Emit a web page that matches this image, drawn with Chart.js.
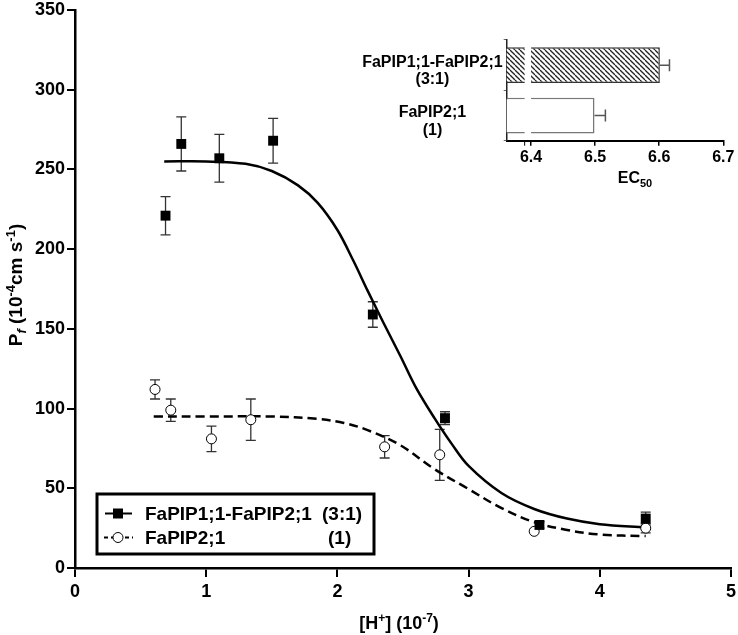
<!DOCTYPE html>
<html>
<head>
<meta charset="utf-8">
<script src="https://cdn.jsdelivr.net/npm/chart.js@4.4.1/dist/chart.umd.min.js"></script>
<style>
  body { margin: 0; background: #fff; }
  #wrap { position: relative; width: 738px; height: 635px; }
  #mainChart { position: absolute; left: 0; top: 0; }
  #insetChart { position: absolute; left: 340px; top: 30px; }
</style>
</head>
<body>
<div id="wrap">
  <canvas id="mainChart" width="738" height="635"></canvas>
  <canvas id="insetChart" width="398" height="170"></canvas>
</div>
<script>
// measured points, [H+] (10^-7) vs Pf
const seriesNames = ["FaPIP1;1-FaPIP2;1", "FaPIP2;1"];
const seriesRatios = ["(3:1)", "(1)"];

const mixX   = [0.69, 0.81, 1.10, 1.51, 2.27, 2.82, 3.54, 4.35];
const mixY   = [221, 266, 257, 268, 159, 94, 27, 31];
const mixErr = [12, 17, 15, 14, 8, 4, 2, 4];

const pip2X   = [0.61, 0.73, 1.04, 1.34, 2.36, 2.78, 3.50, 4.35];
const pip2Y   = [112, 99, 81, 93, 76, 71, 23, 25];
const pip2Err = [6, 7, 8, 13, 7, 16, 0, 3];

// fitted curves
const mixFitX = [0.68, 1.0, 1.3, 1.5, 1.7, 1.85, 2.0, 2.12, 2.23, 2.35, 2.48, 2.6, 2.74, 2.87, 3.0, 3.25, 3.5, 3.75, 4.0, 4.35];
const mixFitY = [255, 255, 253.5, 249, 240, 229, 212, 193, 174, 154, 133, 113, 94, 78, 64, 47, 37, 31, 27.5, 25.5];
const pip2FitX = [0.6, 1.0, 1.5, 1.85, 2.05, 2.23, 2.48, 2.74, 2.99, 3.24, 3.49, 3.74, 4.0, 4.35];
const pip2FitY = [95, 95, 95, 93.5, 91, 86.5, 77, 62, 50, 38, 29, 24, 21, 20];

const xTicks = [0, 1, 2, 3, 4, 5];
const yTicks = [0, 50, 100, 150, 200, 250, 300, 350];

// inset: EC50
const ec50Labels = [["FaPIP1;1-FaPIP2;1", "(3:1)"], ["FaPIP2;1", "(1)"]];
const ec50Values = [6.601, 6.499];
const ec50Err = [0.015, 0.017];
const ec50Ticks = [6.4, 6.5, 6.6, 6.7];
const ec50Break = [6.39, 6.40];

const FONT = "'Liberation Sans', Arial, sans-serif";

function toPoints(xs, ys) {
  return xs.map((x, i) => ({ x: x, y: ys[i] }));
}

// draws text with super/subscript parts, centred on x
function drawRich(ctx, parts, x, y) {
  let total = 0;
  parts.forEach(p => {
    ctx.font = (p.italic ? "italic " : "") + "bold " + p.size + "px " + FONT;
    p.w = ctx.measureText(p.t).width;
    total += p.w;
  });
  let cx = x - total / 2;
  ctx.textAlign = "left";
  ctx.textBaseline = "alphabetic";
  parts.forEach(p => {
    ctx.font = (p.italic ? "italic " : "") + "bold " + p.size + "px " + FONT;
    ctx.fillText(p.t, cx, y + (p.dy || 0));
    cx += p.w;
  });
}

const errorBars = {
  id: "errorBars",
  beforeDatasetsDraw(chart) {
    const ctx = chart.ctx;
    const xs = chart.scales.x, ys = chart.scales.y;
    const sets = [[mixX, mixY, mixErr], [pip2X, pip2Y, pip2Err]];
    ctx.save();
    ctx.strokeStyle = "#333";
    ctx.lineWidth = 1.3;
    sets.forEach(s => {
      s[0].forEach((xv, i) => {
        if (!s[2][i]) return;
        const px = xs.getPixelForValue(xv);
        const top = ys.getPixelForValue(s[1][i] + s[2][i]);
        const bot = ys.getPixelForValue(s[1][i] - s[2][i]);
        ctx.beginPath();
        ctx.moveTo(px, top); ctx.lineTo(px, bot);
        ctx.moveTo(px - 5, top); ctx.lineTo(px + 5, top);
        ctx.moveTo(px - 5, bot); ctx.lineTo(px + 5, bot);
        ctx.stroke();
      });
    });
    ctx.restore();
  }
};

const extras = {
  id: "extras",
  afterDraw(chart) {
    const ctx = chart.ctx;
    ctx.save();
    ctx.fillStyle = "#000";
    // x title
    drawRich(ctx, [
      { t: "[H", size: 18 }, { t: "+", size: 12, dy: -7 },
      { t: "] (10", size: 18 }, { t: "-7", size: 12, dy: -7 }, { t: ")", size: 18 }
    ], 399, 629);
    // y title
    ctx.translate(22, 285);
    ctx.rotate(-Math.PI / 2);
    drawRich(ctx, [
      { t: "P", size: 19 }, { t: "f", size: 13, dy: 4, italic: true },
      { t: " (10", size: 19 }, { t: "-4", size: 13, dy: -7 },
      { t: "cm s", size: 19 }, { t: "-1", size: 13, dy: -7 }, { t: ")", size: 19 }
    ], 0, 0);
    ctx.restore();

    // legend box
    ctx.save();
    ctx.strokeStyle = "#000";
    ctx.lineWidth = 3;
    ctx.strokeRect(97, 494, 277, 60);
    const rows = [513.5, 537.5];
    ctx.lineWidth = 2;
    // row 1: solid + square
    ctx.beginPath(); ctx.moveTo(105, rows[0]); ctx.lineTo(132, rows[0]); ctx.stroke();
    ctx.fillStyle = "#000";
    ctx.fillRect(113, rows[0] - 5, 10, 10);
    // row 2: dashed + circle
    ctx.setLineDash([4, 3]);
    ctx.beginPath(); ctx.moveTo(104, rows[1]); ctx.lineTo(133, rows[1]); ctx.stroke();
    ctx.setLineDash([]);
    ctx.fillStyle = "#fff";
    ctx.lineWidth = 1;
    ctx.beginPath(); ctx.arc(118, rows[1], 5, 0, Math.PI * 2); ctx.fill(); ctx.stroke();
    ctx.fillStyle = "#000";
    ctx.font = "bold 19px " + FONT;
    ctx.textBaseline = "middle";
    ctx.textAlign = "left";
    ctx.fillText(seriesNames[0], 145, rows[0] + 1);
    ctx.fillText(seriesNames[1], 145, rows[1] + 1);
    ctx.fillText(seriesRatios[0], 322, rows[0] + 1);
    ctx.fillText(seriesRatios[1], 328, rows[1] + 1);
    ctx.restore();
  }
};

new Chart(document.getElementById("mainChart"), {
  type: "scatter",
  data: {
    datasets: [
      {
        label: seriesNames[0],
        data: toPoints(mixX, mixY),
        pointStyle: "rect",
        pointRadius: 7,
        backgroundColor: "#000",
        borderColor: "#000",
        borderWidth: 0
      },
      {
        label: seriesNames[1],
        data: toPoints(pip2X, pip2Y),
        pointStyle: "circle",
        pointRadius: 5,
        backgroundColor: "#fff",
        borderColor: "#000",
        borderWidth: 1
      },
      {
        label: "fit 1",
        data: toPoints(mixFitX, mixFitY),
        showLine: true,
        pointRadius: 0,
        borderColor: "#000",
        borderWidth: 2.5,
        tension: 0.35
      },
      {
        label: "fit 2",
        data: toPoints(pip2FitX, pip2FitY),
        showLine: true,
        pointRadius: 0,
        borderColor: "#000",
        borderWidth: 2.5,
        borderDash: [9, 5],
        tension: 0.35
      }
    ]
  },
  options: {
    responsive: false,
    animation: false,
    layout: { padding: { top: 10, right: 3, left: 0, bottom: 0 } },
    plugins: { legend: { display: false }, tooltip: { enabled: false } },
    scales: {
      x: {
        type: "linear",
        min: 0, max: 5,
        afterBuildTicks: s => { s.ticks = xTicks.map(v => ({ value: v })); },
        afterFit: s => { s.height = 67; s.paddingLeft = 0; s.paddingRight = 0; },
        ticks: { color: "#000", font: { family: FONT, size: 18, weight: "bold" }, padding: 4 },
        grid: { drawOnChartArea: false, tickLength: 9, color: "#000", lineWidth: 2 },
        border: { color: "#000", width: 2.5 }
      },
      y: {
        min: 0, max: 350,
        afterBuildTicks: s => { s.ticks = yTicks.map(v => ({ value: v })); },
        afterFit: s => { s.width = 75; s.paddingTop = 0; s.paddingBottom = 0; },
        ticks: { color: "#000", font: { family: FONT, size: 18, weight: "bold" }, padding: 2 },
        grid: { drawOnChartArea: false, tickLength: 8, color: "#000", lineWidth: 2 },
        border: { color: "#000", width: 2.5 }
      }
    }
  },
  plugins: [errorBars, extras]
});

// hatch for the first inset bar
function makeHatch() {
  const c = document.createElement("canvas");
  c.width = 5; c.height = 5;
  const g = c.getContext("2d");
  g.fillStyle = "#fff";
  g.fillRect(0, 0, 5, 5);
  g.strokeStyle = "#222";
  g.lineWidth = 1.3;
  [-5, 0, 5].forEach(k => {
    g.beginPath(); g.moveTo(k, 0); g.lineTo(k + 5, 5); g.stroke();
  });
  return g.createPattern(c, "repeat");
}

const insetExtras = {
  id: "insetExtras",
  afterDatasetsDraw(chart) {
    const ctx = chart.ctx;
    const xs = chart.scales.x;
    const meta = chart.getDatasetMeta(0);
    ctx.save();
    // error bars
    ctx.strokeStyle = "#555";
    ctx.lineWidth = 1.5;
    meta.data.forEach((bar, i) => {
      const x0 = xs.getPixelForValue(ec50Values[i]);
      const x1 = xs.getPixelForValue(ec50Values[i] + ec50Err[i]);
      ctx.beginPath();
      ctx.moveTo(x0, bar.y); ctx.lineTo(x1, bar.y);
      ctx.moveTo(x1, bar.y - 6); ctx.lineTo(x1, bar.y + 6);
      ctx.stroke();
    });
    // axis break
    const b0 = xs.getPixelForValue(ec50Break[0]);
    const b1 = xs.getPixelForValue(ec50Break[1]);
    const area = chart.chartArea;
    ctx.fillStyle = "#fff";
    ctx.fillRect(b0, area.top, b1 - b0, area.bottom - area.top - 2);
    ctx.strokeStyle = "#000";
    ctx.lineWidth = 1;
    ctx.beginPath();
    ctx.moveTo(b0, area.bottom); ctx.lineTo(b0, area.bottom + 5);
    ctx.stroke();
    ctx.restore();
  },
  afterDraw(chart) {
    const ctx = chart.ctx;
    ctx.save();
    ctx.fillStyle = "#000";
    drawRich(ctx, [{ t: "EC", size: 16 }, { t: "50", size: 11, dy: 4 }], 295, 153);
    ctx.restore();
  }
};

new Chart(document.getElementById("insetChart"), {
  type: "bar",
  data: {
    labels: ec50Labels,
    datasets: [{
      data: ec50Values,
      backgroundColor: [makeHatch(), "#fff"],
      borderColor: ["#333", "#777"],
      borderWidth: 1.5,
      borderSkipped: false,
      barPercentage: 0.71,
      categoryPercentage: 1
    }]
  },
  options: {
    indexAxis: "y",
    responsive: false,
    animation: false,
    layout: { padding: { top: 10, right: 14.7, left: 0, bottom: 0 } },
    plugins: { legend: { display: false }, tooltip: { enabled: false } },
    scales: {
      x: {
        min: 6.362, max: 6.7,
        afterBuildTicks: s => { s.ticks = ec50Ticks.map(v => ({ value: v })); },
        afterFit: s => { s.height = 59.3; s.paddingLeft = 0; s.paddingRight = 0; },
        ticks: {
          color: "#000", font: { family: FONT, size: 16, weight: "bold" }, padding: 2,
          callback: v => v.toFixed(1)
        },
        grid: { drawOnChartArea: false, tickLength: 5, color: "#000", lineWidth: 1.5 },
        border: { color: "#000", width: 2 }
      },
      y: {
        afterFit: s => { s.width = 166.7; s.paddingTop = 0; s.paddingBottom = 0; },
        ticks: {
          color: "#000", font: { family: FONT, size: 16, weight: "bold", lineHeight: 1.1 },
          crossAlign: "center", padding: 1, labelOffset: 6
        },
        grid: { drawOnChartArea: false, tickLength: 3, color: "#666", lineWidth: 1 },
        border: { color: "#222", width: 1.5 }
      }
    }
  },
  plugins: [insetExtras]
});
</script>
</body>
</html>
